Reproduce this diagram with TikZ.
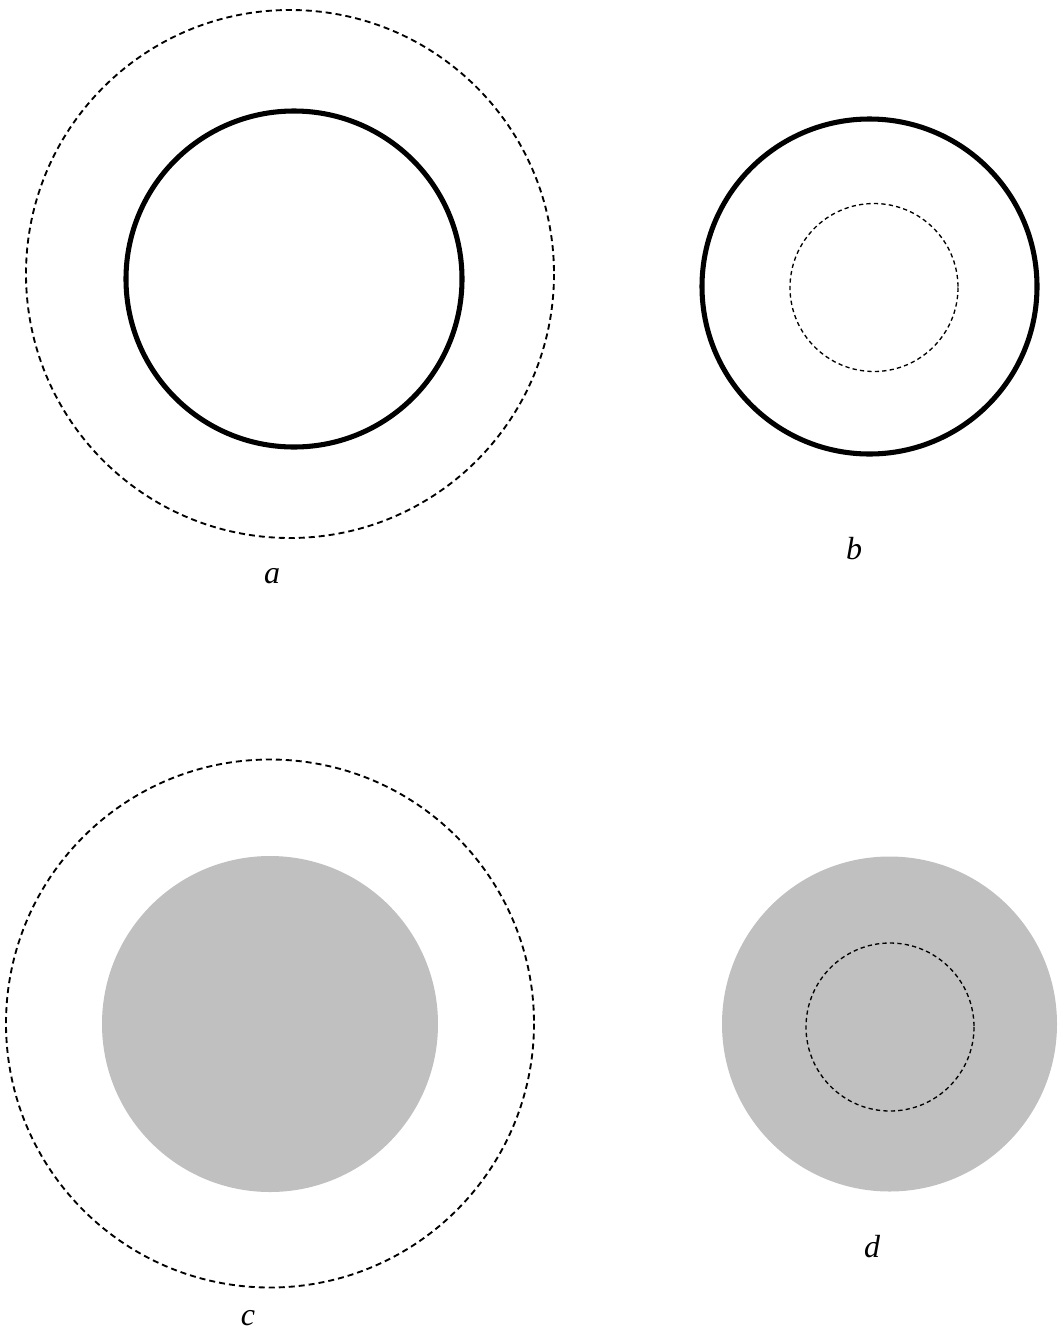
\documentclass[tikz,border=0pt]{standalone}
\usepackage{fontspec}
\setmainfont{Liberation Serif}
\definecolor{fillgray}{RGB}{192,192,192}
\begin{document}
\begin{tikzpicture}[x=0.75pt,y=-0.75pt,
  thickring/.style={line width=3.8pt},
  bigdash/.style={line width=1.4pt,dash pattern=on 4.5pt off 3pt},
  smalldash/.style={line width=1pt,dash pattern=on 3.2pt off 2.4pt},
  disc/.style={fill=fillgray,draw=none},
  lbl/.style={font=\fontsize{24}{28}\selectfont\itshape,inner sep=0pt}]
\useasboundingbox (0,0) rectangle (1061,1335);
% a
\draw[bigdash] (290,274) circle[radius=264];
\draw[thickring] (294,279) circle[radius=168];
\node[lbl] (la) at (272,576) {a};
% b
\draw[thickring] (869.5,286.5) circle[radius=167.5];
\draw[smalldash] (874,287.5) circle[radius=84];
\node[lbl] (lb) at (854,549) {b};
% c
\draw[bigdash] (270,1023.5) circle[radius=264];
\fill[disc] (270,1024) circle[radius=168];
\node[lbl] (lc) at (248,1318) {c};
% d
\fill[disc] (889.5,1024) circle[radius=167.5];
\draw[smalldash] (890,1027) circle[radius=84];
\node[lbl] (ld) at (872,1247) {d};
\end{tikzpicture}
\end{document}
